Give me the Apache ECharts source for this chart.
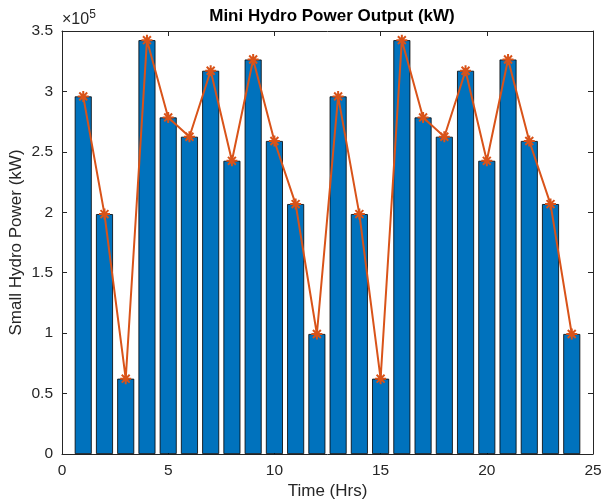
<!DOCTYPE html>
<html>
<head>
<meta charset="utf-8">
<script src="https://cdn.jsdelivr.net/npm/echarts@6/dist/echarts.min.js"></script>
<style>html,body{margin:0;padding:0;background:#fff}#c{width:604px;height:504px}</style>
</head>
<body>
<div id="c"></div>
<script>
const hours = [1,2,3,4,5,6,7,8,9,10,11,12,13,14,15,16,17,18,19,20,21,22,23,24];
const power = [295900,198500,62300,342400,278500,262500,317100,242600,326400,259000,206800,99300,
               295900,198500,62300,342400,278500,262500,317100,242600,326400,259000,206800,99300];
const xTicks = [0,5,10,15,20,25];
const yTickLabels = ['0','0.5','1','1.5','2','2.5','3','3.5'];

const pts = hours.map((h,i)=>[h, power[i]]);
const axisCol = '#262626';
const font = 'Liberation Sans, Arial, Helvetica, sans-serif';
const star = 'path://M0,-5L0,5M-5,0L5,0M-3.6,-3.6L3.6,3.6M-3.6,3.6L3.6,-3.6';

const chart = echarts.init(document.getElementById('c'));
function common(){ return {min:0,
  axisLine:{show:true, onZero:false, lineStyle:{color:axisCol,width:1}}, splitLine:{show:false},
  axisTick:{show:true, inside:true, length:5, lineStyle:{color:axisCol}}}; }
chart.setOption({
  animation:false,
  title:{text:'Mini Hydro Power Output (kW)', left:327, top:3, textAlign:'center',
    textStyle:{fontFamily:font, fontSize:17, fontWeight:'bold', color:'#000'}},
  grid:{left:62, right:11, top:31, bottom:50, containLabel:false, outerBoundsMode:'none'},
  xAxis:[
    Object.assign(common(), {type:'value', max:25, interval:5, position:'bottom',
      axisLabel:{color:axisCol, fontFamily:font, fontSize:15.5, margin:9},
      name:'Time (Hrs)', nameLocation:'middle', nameGap:29, nameMoveOverlap:false,
      nameTextStyle:{color:axisCol, fontFamily:font, fontSize:17}}),
    Object.assign(common(), {type:'value', max:25, interval:5, position:'top', axisLabel:{show:false}})
  ],
  yAxis:[
    Object.assign(common(), {type:'value', max:350000, interval:50000, position:'left',
      axisLabel:{color:axisCol, fontFamily:font, fontSize:15.5, margin:9,
        formatter:(v)=>yTickLabels[Math.round(v/50000)]},
      name:'Small Hydro Power (kW)', nameLocation:'middle', nameGap:37, nameMoveOverlap:false,
      nameTextStyle:{color:axisCol, fontFamily:font, fontSize:17}}),
    Object.assign(common(), {type:'value', max:350000, interval:50000, position:'right', axisLabel:{show:false}})
  ],
  graphic:[{type:'text', left:62, top:9,
    style:{text:'×10{s|5}', rich:{s:{fontSize:12, verticalAlign:'top', fill:axisCol, fontFamily:font, padding:[0,0,9,0]}},
      fontSize:16, fill:axisCol, fontFamily:font}}],
  series:[
    {type:'bar', data:pts, barWidth:17, xAxisIndex:0, yAxisIndex:0,
      itemStyle:{color:'#0072BD', borderColor:'#000', borderWidth:0.8}},
    {type:'line', data:pts, xAxisIndex:0, yAxisIndex:0, symbol:star, symbolSize:11,
      lineStyle:{color:'#D95319', width:2},
      itemStyle:{color:'#D95319', borderColor:'#D95319', borderWidth:2}, z:5}
  ]
});
</script>
</body>
</html>
